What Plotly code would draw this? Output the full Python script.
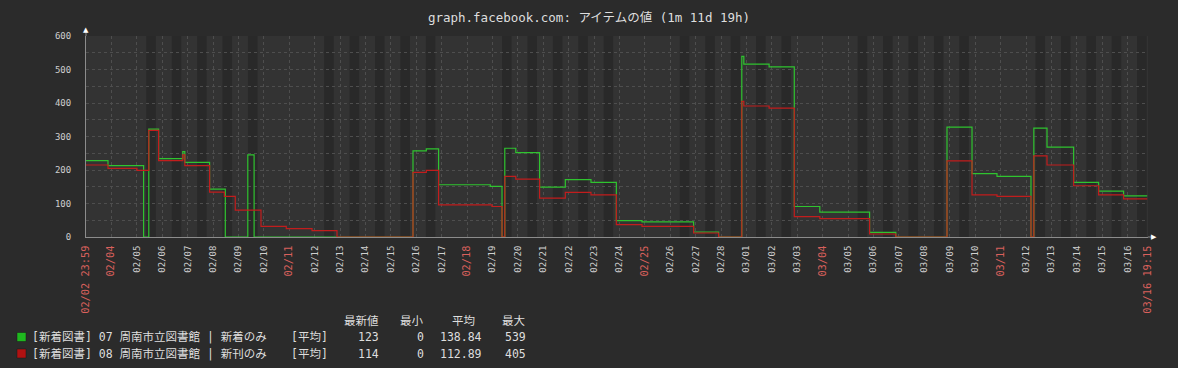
import plotly.graph_objects as go
import pandas as pd

# ---------------- data ----------------
title_text = "graph.facebook.com: アイテムの値 (1m 11d 19h)"
range_start = "2019-02-02 23:59"
range_end = "2019-03-16 19:15"

series_names = ["[新着図書] 07 周南市立図書館 | 新着のみ",
                "[新着図書] 08 周南市立図書館 | 新刊のみ"]
series_func = ["[平均]", "[平均]"]

green_times = [
    "2019-02-02 23:59", "2019-02-03 20:45", "2019-02-05 06:24", "2019-02-05 11:18",
    "2019-02-05 20:34", "2019-02-06 19:25", "2019-02-06 21:20", "2019-02-07 20:45",
    "2019-02-08 11:35", "2019-02-09 08:50", "2019-02-09 14:47", "2019-02-15 20:54",
    "2019-02-16 09:28", "2019-02-16 21:05", "2019-02-18 21:55", "2019-02-19 09:00",
    "2019-02-19 11:37", "2019-02-19 22:00", "2019-02-20 20:30", "2019-02-21 20:47",
    "2019-02-22 21:02", "2019-02-23 21:00", "2019-02-24 21:14", "2019-02-26 22:00",
    "2019-02-27 21:36", "2019-02-28 19:31", "2019-02-28 21:25", "2019-03-01 21:18",
    "2019-03-02 21:06", "2019-03-03 21:12", "2019-03-05 20:14", "2019-03-06 21:00",
    "2019-03-08 21:22", "2019-03-09 21:00", "2019-03-10 20:36", "2019-03-12 04:42",
    "2019-03-12 07:24", "2019-03-12 19:50", "2019-03-13 21:00", "2019-03-14 20:36",
    "2019-03-15 20:12", "2019-03-16 18:30",
]
green_vals = [
    228, 213, 0, 322,
    234, 255, 223, 143,
    0, 245, 0, 257,
    263, 156, 151, 0,
    265, 252, 149, 171,
    163, 49, 45, 15,
    0, 539, 516, 508,
    91, 74, 14, 0,
    328, 189, 181, 0,
    325, 268, 163, 137,
    123, 123,
]

red_times = [
    "2019-02-02 23:59", "2019-02-03 20:45", "2019-02-05 00:10", "2019-02-05 11:18",
    "2019-02-05 20:34", "2019-02-06 19:25", "2019-02-06 21:20", "2019-02-07 20:45",
    "2019-02-08 10:38", "2019-02-08 21:00", "2019-02-09 21:18", "2019-02-10 21:12",
    "2019-02-11 21:30", "2019-02-12 21:06", "2019-02-15 20:54", "2019-02-16 09:28",
    "2019-02-16 21:05", "2019-02-18 23:30", "2019-02-19 09:00", "2019-02-19 11:37",
    "2019-02-19 22:00", "2019-02-20 20:30", "2019-02-21 20:47", "2019-02-22 21:02",
    "2019-02-23 21:00", "2019-02-24 21:14", "2019-02-26 22:00", "2019-02-27 21:36",
    "2019-02-28 19:31", "2019-02-28 21:25", "2019-03-01 21:18", "2019-03-02 21:06",
    "2019-03-03 21:12", "2019-03-05 20:14", "2019-03-06 21:00", "2019-03-08 21:22",
    "2019-03-09 21:00", "2019-03-10 20:36", "2019-03-12 04:42", "2019-03-12 07:24",
    "2019-03-12 19:50", "2019-03-13 21:00", "2019-03-14 20:36", "2019-03-15 20:12",
    "2019-03-16 18:30",
]
red_vals = [
    215, 205, 199, 318,
    228, 245, 213, 134,
    121, 80, 32, 25,
    19, 0, 193, 199,
    96, 91, 0, 181,
    173, 116, 133, 126,
    37, 32, 12, 0,
    405, 391, 385, 61,
    55, 9, 0, 227,
    126, 121, 0, 242,
    215, 153, 126, 114,
    114,
]

stat_headers = ["最新値", "最小", "平均", "最大"]
last_vals = ["123", "114"]
min_vals = ["0", "0"]
avg_vals = ["138.84", "112.89"]
max_vals = ["539", "405"]

y_tick_vals = [0, 100, 200, 300, 400, 500, 600]
y_tick_labels = ["0", "100", "200", "300", "400", "500", "600"]

x_tick_labels = ["02/02 23:59", "02/04", "02/05", "02/06", "02/07", "02/08", "02/09",
                 "02/10", "02/11", "02/12", "02/13", "02/14", "02/15", "02/16", "02/17",
                 "02/18", "02/19", "02/20", "02/21", "02/22", "02/23", "02/24", "02/25",
                 "02/26", "02/27", "02/28", "03/01", "03/02", "03/03", "03/04", "03/05",
                 "03/06", "03/07", "03/08", "03/09", "03/10", "03/11", "03/12", "03/13",
                 "03/14", "03/15", "03/16", "03/16 19:15"]
x_tick_highlight = ["02/02 23:59", "02/04", "02/11", "02/18", "02/25", "03/04", "03/11",
                    "03/16 19:15"]

# ---------------- style ----------------
W, H = 1178, 368
ML, MR, MT, MB = 86, 30, 36, 131
PW = W - ML - MR
PH = H - MT - MB

BG = "#2b2b2b"
NONWORK = "#333333"
WORK = "#292929"
GRID = "#4e4e4e"
AXIS = "#8c8c8c"
TEXT = "#dedede"
HIGHLIGHT = "#d9605c"
GREEN = "#2fc42f"
RED = "#c21d1d"
FONT = "DejaVu Sans Mono, Noto Sans CJK JP, monospace"


def px(x):
    return (x - ML) / PW


def py(y):
    return (H - MB - y) / PH


def label_to_time(lbl):
    if " " in lbl:
        d, t = lbl.split(" ")
    else:
        d, t = lbl, "00:00"
    m, dd = d.split("/")
    return f"2019-{m}-{dd} {t}"


tick_vals = [label_to_time(l) for l in x_tick_labels]
tick_text = []
for l in x_tick_labels:
    if l in x_tick_highlight:
        tick_text.append(f'<span style="color:{HIGHLIGHT};font-size:10.3px">{l}</span>')
    else:
        tick_text.append(l)

fig = go.Figure()
fig.add_trace(go.Scatter(x=pd.to_datetime(green_times), y=green_vals, mode="lines",
                         line=dict(color=GREEN, width=1.2, shape="hv"),
                         name=series_names[0], hoverinfo="skip"))
fig.add_trace(go.Scatter(x=pd.to_datetime(red_times), y=red_vals, mode="lines",
                         line=dict(color=RED, width=1.2, shape="hv"),
                         name=series_names[1], hoverinfo="skip"))

shapes = []
# working time bands (Tue-Sat, 09:00-18:00)
t0, t1 = pd.Timestamp(range_start), pd.Timestamp(range_end)
for d in pd.date_range("2019-02-03", "2019-03-16", freq="D"):
    if d.weekday() in (1, 2, 3, 4, 5):
        a = max(d + pd.Timedelta(hours=9), t0)
        b = min(d + pd.Timedelta(hours=18), t1)
        if b > a:
            shapes.append(dict(type="rect", xref="x", yref="paper", x0=a, x1=b, y0=0, y1=1,
                               fillcolor=WORK, line=dict(width=0), layer="below"))
# axis extensions
shapes.append(dict(type="line", xref="paper", yref="paper", x0=0, x1=0, y0=1, y1=py(31),
                   line=dict(color=AXIS, width=1)))
shapes.append(dict(type="line", xref="paper", yref="paper", x0=1, x1=px(1152), y0=0, y1=0,
                   line=dict(color=AXIS, width=1)))
# legend squares
for i, c in enumerate([GREEN, RED]):
    yc = 337 + 16.5 * i
    shapes.append(dict(type="rect", xref="paper", yref="paper",
                       x0=px(17), x1=px(26), y0=py(yc + 4.5), y1=py(yc - 4.5),
                       fillcolor=["#1fb81f", "#b01212"][i], line=dict(color="#1a1a1a", width=0.5)))

annotations = []
# arrows
annotations.append(dict(text="▲", xref="paper", yref="paper", x=px(85.7), y=py(29.5),
                        showarrow=False, font=dict(size=7, color="#ffffff", family="DejaVu Sans"),
                        xanchor="center", yanchor="middle"))
annotations.append(dict(text="▶", xref="paper", yref="paper", x=px(1154), y=py(237),
                        showarrow=False, font=dict(size=7, color="#ffffff", family="DejaVu Sans"),
                        xanchor="center", yanchor="middle"))
# legend header
header_right = [381, 426, 477, 528]
for h, xr in zip(stat_headers, header_right):
    annotations.append(dict(text=h, xref="paper", yref="paper", x=px(xr), y=py(321),
                            showarrow=False, xanchor="right", yanchor="middle",
                            font=dict(size=11.5, color=TEXT, family=FONT)))
value_right = [381, 426, 484, 528]
for i in range(2):
    yc = 337 + 16.5 * i
    annotations.append(dict(text=series_names[i], xref="paper", yref="paper", x=px(30), y=py(yc),
                            showarrow=False, xanchor="left", yanchor="middle",
                            font=dict(size=11.5, color=TEXT, family=FONT)))
    annotations.append(dict(text=series_func[i], xref="paper", yref="paper", x=px(289), y=py(yc),
                            showarrow=False, xanchor="left", yanchor="middle",
                            font=dict(size=11.5, color=TEXT, family=FONT)))
    for vals, xr in zip([last_vals, min_vals, avg_vals, max_vals], value_right):
        annotations.append(dict(text=vals[i], xref="paper", yref="paper", x=px(xr), y=py(yc),
                                showarrow=False, xanchor="right", yanchor="middle",
                                font=dict(size=11.5, color=TEXT, family=FONT)))

fig.update_layout(
    width=W, height=H, autosize=False,
    margin=dict(l=ML, r=MR, t=MT, b=MB, pad=0),
    paper_bgcolor=BG, plot_bgcolor=NONWORK,
    showlegend=False,
    title=dict(text=title_text, x=0.5, xref="container", xanchor="center",
               y=1 - 18 / H, yref="container", yanchor="middle",
               font=dict(size=12.5, color=TEXT, family=FONT)),
    font=dict(family=FONT, color=TEXT),
    shapes=shapes, annotations=annotations,
    xaxis=dict(type="date", range=[range_start, range_end],
               tickmode="array", tickvals=tick_vals, ticktext=tick_text,
               tickangle=-90, ticks="", ticklabelstandoff=4,
               tickfont=dict(size=9, color="#cfcfcf", family=FONT),
               showgrid=True, gridcolor=GRID, griddash="3px,3px", gridwidth=1,
               showline=True, linecolor=AXIS, linewidth=1, zeroline=False),
    yaxis=dict(range=[0, 600], tickmode="array", tickvals=y_tick_vals, ticktext=y_tick_labels,
               ticks="", ticklabelstandoff=12,
               tickfont=dict(size=9, color="#cfcfcf", family=FONT),
               showgrid=True, gridcolor=GRID, griddash="3px,3px", gridwidth=1,
               minor=dict(dtick=50, tick0=0, showgrid=True, gridcolor=GRID,
                          griddash="3px,3px", gridwidth=1),
               showline=True, linecolor=AXIS, linewidth=1, zeroline=False),
)

fig.write_html("out.html")
